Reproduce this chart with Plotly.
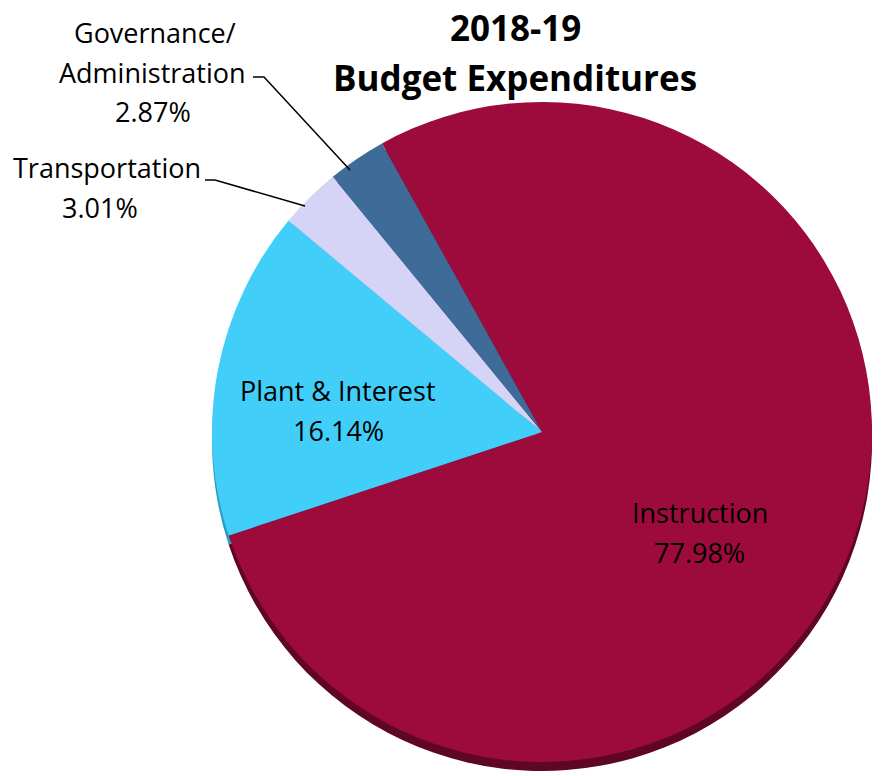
import plotly.graph_objects as go

# Budget expenditure shares, 2018-19 (percent of total)
categories = ["Instruction", "Plant & Interest", "Transportation", "Governance/Administration"]
shares = [77.98, 16.14, 3.01, 2.87]
colors = ["#9C0B3B", "#41CFFA", "#D5D3F6", "#3F6B98"]
rim_colors = ["#5E0622", "#2A9CC0", "#A8A6CC", "#2A4A6C"]
title_lines = ["2018-19", "Budget Expenditures"]

W, H = 885, 776
cx, cy, r = 542, 432, 330   # pie centre / radius in pixels
rim = 9                      # depth of the darker rim under the top face
FONT = "Open Sans"


def dom_x(c, rad):
    return [(c - rad) / W, (c + rad) / W]


def dom_y(c, rad):
    return [1 - (c + rad) / H, 1 - (c - rad) / H]


fig = go.Figure()

# darker copy drawn slightly lower gives the pie a visible edge
fig.add_trace(go.Pie(
    labels=categories, values=shares, sort=False, direction="clockwise",
    rotation=-29, textinfo="none", hoverinfo="skip", showlegend=False,
    marker=dict(colors=rim_colors, line=dict(width=0)),
    domain=dict(x=dom_x(cx, r), y=dom_y(cy + rim, r)),
))

fig.add_trace(go.Pie(
    labels=categories, values=shares, sort=False, direction="clockwise",
    rotation=-29, textinfo="none", showlegend=False,
    marker=dict(colors=colors, line=dict(width=0)),
    domain=dict(x=dom_x(cx, r), y=dom_y(cy, r)),
))


def px_ann(x, y, text, size=27, bold=False, xanchor="center"):
    fig.add_annotation(
        x=x / W, y=1 - y / H, xref="paper", yref="paper",
        text=f"<b>{text}</b>" if bold else text,
        showarrow=False, xanchor=xanchor, yanchor="middle",
        font=dict(family=FONT, size=size, color="#000000"),
    )


# title
px_ann(515, 28, title_lines[0], size=35, bold=True)
px_ann(515, 78, title_lines[1], size=35, bold=True)

# slice labels: name line(s) followed by the share
label_pos = {
    "Instruction": [(700, 512), (699, 552)],
    "Plant & Interest": [(338, 390), (338, 430)],
    "Transportation": [(107, 167), (100, 208)],
    "Governance/Administration": [(155, 33), (152, 72), (153, 112)],
}
for name, val in zip(categories, shares):
    lines = name.replace("/", "/\n").split("\n") + [f"{val:.2f}%"]
    for (x, y), txt in zip(label_pos[name], lines):
        px_ann(x, y, txt)


def leader(points):
    path = "M " + " L ".join(f"{x / W},{1 - y / H}" for x, y in points)
    fig.add_shape(type="path", path=path, xref="paper", yref="paper",
                  line=dict(color="#000000", width=1.5))


leader([(253, 77), (264, 77), (350, 170)])
leader([(205, 180), (215, 180), (305, 206)])

fig.update_layout(
    width=W, height=H,
    margin=dict(l=0, r=0, t=0, b=0),
    paper_bgcolor="#FFFFFF", plot_bgcolor="#FFFFFF",
)

fig.write_html("out.html")
